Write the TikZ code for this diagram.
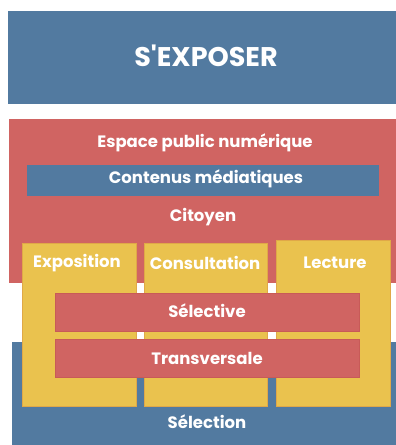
\documentclass[tikz,border=0pt]{standalone}
\usepackage{fontspec}
\setmainfont{Poppins}
\newfontfamily\popplain{Poppins}
\definecolor{cblue}{HTML}{527AA0}
\definecolor{cred}{HTML}{D06462}
\definecolor{cyel}{HTML}{EAC24E}
\definecolor{cyeledge}{HTML}{E0A848}
\definecolor{crededge}{HTML}{C85A58}
\begin{document}
\begin{tikzpicture}[x=1pt,y=-1pt,
  area/.style={anchor=north west, inner sep=0pt, outer sep=0pt, rectangle},
  bluebox/.style={area, fill=cblue},
  redbox/.style={area, fill=cred},
  redbar/.style={area, fill=cred, draw=crededge, line width=0.5pt},
  yelbox/.style={area, fill=cyel, draw=cyeledge, line width=0.5pt},
  lbl/.style={text=white, inner sep=0pt, font=\bfseries\fontsize{16.5}{20}\selectfont},
  biglbl/.style={text=white, inner sep=0pt, font=\popplain\bfseries\fontsize{27}{32}\selectfont}]
\useasboundingbox (0,0) rectangle (396,445);
\fill[white] (0,0) rectangle (396,445);
% top
\node[bluebox, minimum width=388pt, minimum height=93pt] (top) at (8,11) {};
\node[biglbl] (topt) at (206,56) {S'EXPOSER};
% red area
\node[redbox, minimum width=387pt, minimum height=164pt] (espace) at (9,119) {};
\node[lbl] (espacet) at (205,143) {Espace public numérique};
\node[bluebox, minimum width=352pt, minimum height=31pt] (contenus) at (27,165) {};
\node[lbl] (contenust) at (206,179) {Contenus médiatiques};
\node[lbl] (citoyen) at (203,217) {Citoyen};
% bottom blue
\node[bluebox, minimum width=384pt, minimum height=103pt] (selection) at (12,342) {};
\node[lbl] (selectiont) at (207,422) {Sélection};
% yellow columns
\node[yelbox, minimum width=114pt, minimum height=163pt] (expo) at (22,243) {};
\node[yelbox, minimum width=123pt, minimum height=163pt] (consu) at (144,243) {};
\node[yelbox, minimum width=114pt, minimum height=166pt] (lect) at (276,240) {};
\node[lbl] (expot) at (77,263) {Exposition};
\node[lbl] (consut) at (205,263) {Consultation};
\node[lbl] (lectt) at (335,263) {Lecture};
% red bars
\node[redbar, minimum width=304pt, minimum height=38pt] (selective) at (55,293) {};
\node[lbl] (selectivet) at (207,311) {Sélective};
\node[redbar, minimum width=304pt, minimum height=38pt] (transv) at (55,339) {};
\node[lbl] (transvt) at (207,358) {Transversale};
\end{tikzpicture}
\end{document}
